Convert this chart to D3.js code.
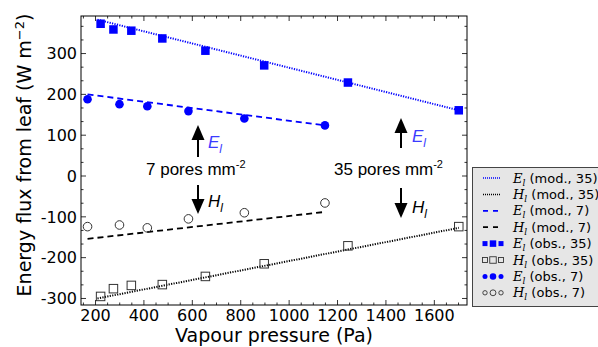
<!DOCTYPE html>
<html><head><meta charset="utf-8">
<script src="https://cdn.jsdelivr.net/npm/d3@7"></script>
<style>body{margin:0;background:#fff}svg{display:block}</style>
</head><body>
<svg id="c" width="598" height="347"></svg>
<script>
// ---- data ----
const x35 = [221, 274, 348, 476, 654, 897, 1243, 1701];
const E35obs = [373, 359, 356, 337, 307, 271, 229, 161];
const H35obs = [-295, -276, -268, -266, -246, -215, -171, -124];
const x7 = [167, 299, 414, 584, 815, 1148];
const E7obs = [188, 176, 171, 159, 141, 124];
const H7obs = [-124, -120, -127, -105, -90, -66];
const xMod35 = [208, 1701];
const EMod35 = [383, 161];
const HMod35 = [-300, -127];
const xMod7 = [167, 1148];
const EMod7 = [200, 124];
const HMod7 = [-154, -88];
const xTicks = [200, 400, 600, 800, 1000, 1200, 1400, 1600];
const yTicks = [-300, -200, -100, 0, 100, 200, 300];
const legendLabels = ["(mod., 35)", "(mod., 35)", "(mod., 7)", "(mod., 7)", "(obs., 35)", "(obs., 35)", "(obs., 7)", "(obs., 7)"];
const legendSym = ["E", "H", "E", "H", "E", "H", "E", "H"];

const svg = d3.select("#c");
const L = 81, R = 467, T = 16, B = 305;
const x = d3.scaleLinear().domain([140, 1735]).range([L, R]);
const y = d3.scaleLinear().domain([-316, 392]).range([B, T]);
const BLUE = "#0000ff";
const SANS = "'DejaVu Sans', sans-serif";
const ARIAL = "'Liberation Sans', Arial, sans-serif";

// frame
svg.append("rect").attr("x", L).attr("y", T).attr("width", R - L).attr("height", B - T)
  .attr("fill", "none").attr("stroke", "#000").attr("stroke-width", 1);

// ticks (inward, all sides)
const g = svg.append("g").attr("stroke", "#000").attr("stroke-width", 0.8);
d3.range(150, 1735, 50).forEach(v => {
  const len = v % 200 === 0 ? 5 : 2.5;
  g.append("line").attr("x1", x(v)).attr("x2", x(v)).attr("y1", B).attr("y2", B - len);
  g.append("line").attr("x1", x(v)).attr("x2", x(v)).attr("y1", T).attr("y2", T + len);
});
d3.range(-300, 392, 100 / 3).forEach(v => {
  const major = Math.abs(v - Math.round(v / 100) * 100) < 1e-6;
  const len = major ? 5 : 2.5;
  g.append("line").attr("y1", y(v)).attr("y2", y(v)).attr("x1", L).attr("x2", L + len);
  g.append("line").attr("y1", y(v)).attr("y2", y(v)).attr("x1", R).attr("x2", R - len);
});

// tick labels
svg.append("g").selectAll("text").data(xTicks).join("text")
  .attr("x", d => x(d)).attr("y", 321).attr("text-anchor", "middle")
  .attr("font-family", SANS).attr("font-size", 16).text(d => d);
svg.append("g").selectAll("text").data(yTicks).join("text")
  .attr("x", 77).attr("y", d => y(d)).attr("dy", "0.36em").attr("text-anchor", "end")
  .attr("font-family", SANS).attr("font-size", 16).text(d => d);

// axis labels
svg.append("text").attr("x", 274).attr("y", 342).attr("text-anchor", "middle")
  .attr("font-family", SANS).attr("font-size", 19).text("Vapour pressure (Pa)");
const yl = svg.append("text").attr("transform", "translate(31,155) rotate(-90)")
  .attr("text-anchor", "middle").attr("font-family", SANS).attr("font-size", 19);
yl.append("tspan").text("Energy flux from leaf (W m");
yl.append("tspan").attr("dy", -7).attr("font-size", 13).text("\u22122");
yl.append("tspan").attr("dy", 7).text(")");

// model lines
const line = d3.line().x(d => x(d[0])).y(d => y(d[1]));
function drawLine(xs, ys, color, dash, w) {
  svg.append("path").datum(xs.map((v, i) => [v, ys[i]])).attr("d", line)
    .attr("fill", "none").attr("stroke", color).attr("stroke-width", w).attr("stroke-dasharray", dash);
}
drawLine(xMod35, EMod35, BLUE, "1.2,1.3", 2);
drawLine(xMod35, HMod35, "#000", "1.2,1.3", 2);
drawLine(xMod7, EMod7, BLUE, "6,4", 1.8);
drawLine(xMod7, HMod7, "#000", "6,4", 1.8);

// observed points
const sq = 8.5;
svg.append("g").selectAll("rect").data(x35.map((v, i) => [v, E35obs[i]])).join("rect")
  .attr("x", d => x(d[0]) - sq / 2).attr("y", d => y(d[1]) - sq / 2).attr("width", sq).attr("height", sq).attr("fill", BLUE);
svg.append("g").selectAll("rect").data(x35.map((v, i) => [v, H35obs[i]])).join("rect")
  .attr("x", d => x(d[0]) - sq / 2).attr("y", d => y(d[1]) - sq / 2).attr("width", sq).attr("height", sq)
  .attr("fill", "none").attr("stroke", "#333").attr("stroke-width", 1);
svg.append("g").selectAll("circle").data(x7.map((v, i) => [v, E7obs[i]])).join("circle")
  .attr("cx", d => x(d[0])).attr("cy", d => y(d[1])).attr("r", 4.3).attr("fill", BLUE);
svg.append("g").selectAll("circle").data(x7.map((v, i) => [v, H7obs[i]])).join("circle")
  .attr("cx", d => x(d[0])).attr("cy", d => y(d[1])).attr("r", 4.3)
  .attr("fill", "none").attr("stroke", "#333").attr("stroke-width", 1);

// annotations
function arrow(xp, y1, y2) {
  const dir = y2 < y1 ? -1 : 1;
  const headLen = 15, headW = 6.5;
  const yb = y2 - dir * headLen;
  svg.append("line").attr("x1", xp).attr("x2", xp).attr("y1", y1).attr("y2", yb)
    .attr("stroke", "#000").attr("stroke-width", 2);
  svg.append("path").attr("d", `M${xp},${y2}L${xp - headW},${yb}L${xp + headW},${yb}Z`).attr("fill", "#000");
}
function symLabel(xp, yp, letter, color) {
  const t = svg.append("text").attr("x", xp).attr("y", yp).attr("font-family", ARIAL)
    .attr("font-style", "italic").attr("font-size", 17).attr("fill", color);
  t.append("tspan").text(letter);
  t.append("tspan").attr("dy", 5).attr("font-size", 12).text("l");
}
function poresLabel(xp, yp, txt) {
  const t = svg.append("text").attr("x", xp).attr("y", yp).attr("font-family", ARIAL).attr("font-size", 17);
  t.append("tspan").text(txt);
  t.append("tspan").attr("dy", -7).attr("font-size", 11).text("-2");
}
arrow(198, 157, 125);
arrow(198, 185, 214);
symLabel(208, 148, "E", "#3b3bff");
symLabel(208, 207, "H", "#000");
poresLabel(146, 175, "7 pores mm");
arrow(401, 148, 118);
arrow(401, 188, 218);
symLabel(412, 142, "E", "#3b3bff");
symLabel(412, 213, "H", "#000");
poresLabel(334, 175, "35 pores mm");

// legend
svg.append("rect").attr("x", 472.5).attr("y", 167.5).attr("width", 140).attr("height", 139)
  .attr("fill", "#e6e6e6").attr("stroke", "#444").attr("stroke-width", 1);
const rowY = i => 178 + i * 16.4;
legendLabels.forEach((lab, i) => {
  const yy = rowY(i);
  const col = legendSym[i] === "E" ? BLUE : "#000";
  if (i < 2) {
    svg.append("line").attr("x1", 483).attr("x2", 500).attr("y1", yy).attr("y2", yy)
      .attr("stroke", col).attr("stroke-width", 1.5).attr("stroke-dasharray", "1,1");
  } else if (i < 4) {
    svg.append("line").attr("x1", 483).attr("x2", 500).attr("y1", yy).attr("y2", yy)
      .attr("stroke", col).attr("stroke-width", 1.8).attr("stroke-dasharray", "5,5");
  } else {
    const sizes = [5, 6.5, 5];
    const xs = [485, 493, 501];
    xs.forEach((xc, k) => {
      const s = sizes[k];
      if (i === 4) svg.append("rect").attr("x", xc - s / 2).attr("y", yy - s / 2).attr("width", s).attr("height", s).attr("fill", BLUE);
      if (i === 5) svg.append("rect").attr("x", xc - s / 2).attr("y", yy - s / 2).attr("width", s).attr("height", s).attr("fill", "none").attr("stroke", "#333").attr("stroke-width", 0.9);
      if (i === 6) svg.append("circle").attr("cx", xc).attr("cy", yy).attr("r", s / 2).attr("fill", BLUE);
      if (i === 7) svg.append("circle").attr("cx", xc).attr("cy", yy).attr("r", s / 2 - 0.3).attr("fill", "none").attr("stroke", "#333").attr("stroke-width", 0.9);
    });
  }
  const t = svg.append("text").attr("x", 513).attr("y", yy + 4.5).attr("font-size", 13).attr("font-family", SANS);
  t.append("tspan").attr("font-family", "'DejaVu Serif', serif").attr("font-style", "italic").text(legendSym[i]);
  t.append("tspan").attr("font-family", "'DejaVu Serif', serif").attr("font-style", "italic").attr("font-size", 9).attr("dy", 3).text("l");
  t.append("tspan").attr("dy", -3).text(" " + lab);
});
</script>
</body></html>
